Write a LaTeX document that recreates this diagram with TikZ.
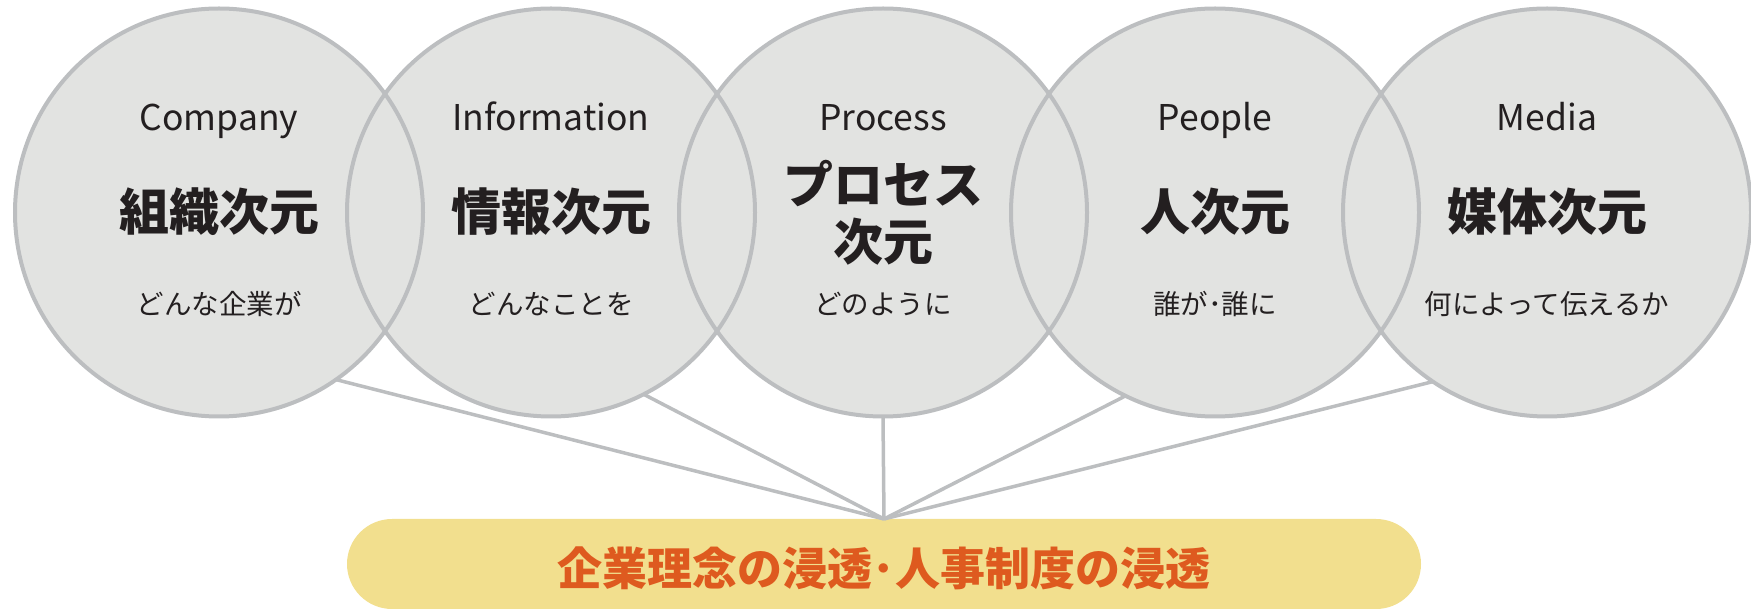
\documentclass[tikz,border=0pt]{standalone}
\usepackage{fontspec}
\setmainfont{Noto Sans CJK JP}
\definecolor{cfill}{HTML}{E2E3E1}
\definecolor{cline}{HTML}{BCBEC0}
\definecolor{pillfill}{HTML}{F2DF8E}
\definecolor{orangetxt}{HTML}{DE5A1F}
\definecolor{darktxt}{HTML}{231F20}
\tikzset{
  circfill/.style={circle, fill=cfill, draw=none, minimum size=408pt, inner sep=0pt, outer sep=0pt},
  ring/.style={draw=cline, line width=4pt},
  conn/.style={draw=cline, line width=3.5pt},
  entxt/.style={anchor=base, text=darktxt, font=\fontsize{35.5}{40}\selectfont, inner sep=0pt},
  bigtxt/.style={text=darktxt, font=\fontsize{50}{58}\selectfont\bfseries, inner sep=0pt},
  smalltxt/.style={text=darktxt, font=\fontsize{27.5}{30}\selectfont, inner sep=0pt},
  pillbox/.style={fill=pillfill, draw=none, rounded corners=45pt, minimum width=1074pt, minimum height=90pt, inner sep=0pt, outer sep=0pt},
  pilltxt/.style={text=orangetxt, font=\fontsize{45}{48}\selectfont\bfseries, inner sep=0pt}
}
\begin{document}
\begin{tikzpicture}[x=1pt,y=1pt]
\useasboundingbox (0,0) rectangle (1751,608);
\begin{scope}
\clip (0,0) rectangle (1751,608);
% circle fills
\node[circfill] (c1) at (219,395.5) {};
\node[circfill] (c2) at (551,395.5) {};
\node[circfill] (c3) at (883,395.5) {};
\node[circfill] (c4) at (1215,395.5) {};
\node[circfill] (c5) at (1547,395.5) {};
% pill
\node[pillbox] (pill) at (884,44) {};
% connectors
\draw[conn] (pill.north) -- (c1.-55.6);
\draw[conn] (pill.north) -- (c2.-63.6);
\draw[conn] (pill.north) -- (c3.south);
\draw[conn] (pill.north) -- (c4.-116.4);
\draw[conn] (pill.north) -- (c5.-124.4);
% circle outlines
\foreach \c in {c1,c2,c3,c4,c5}{
  \draw[ring] (\c.center) circle (204);
}
\end{scope}
% texts
\node[entxt] (e1) at (219,477) {Company};
\node[entxt] (e2) at (551,477) {Information};
\node[entxt] (e3) at (883,477) {Process};
\node[entxt] (e4) at (1215,477) {People};
\node[entxt] (e5) at (1547,477) {Media};
\node[bigtxt] (b1) at (219,396) {組織次元};
\node[bigtxt] (b2) at (551,396) {情報次元};
\node[bigtxt] (b3a) at (883,424) {プロセス};
\node[bigtxt] (b3b) at (883,366) {次元};
\node[bigtxt] (b4) at (1215,396) {人次元};
\node[bigtxt] (b5) at (1547,396) {媒体次元};
\node[smalltxt] (s1) at (219,304) {どんな企業が};
\node[smalltxt] (s2) at (551,304) {どんなことを};
\node[smalltxt] (s3) at (883,304) {どのように};
\node[smalltxt] (s4) at (1215,304) {誰が･誰に};
\node[smalltxt] (s5) at (1547,304) {何によって伝えるか};
\node[pilltxt] (pt) at (884,40) {企業理念の浸透･人事制度の浸透};
\end{tikzpicture}
\end{document}
